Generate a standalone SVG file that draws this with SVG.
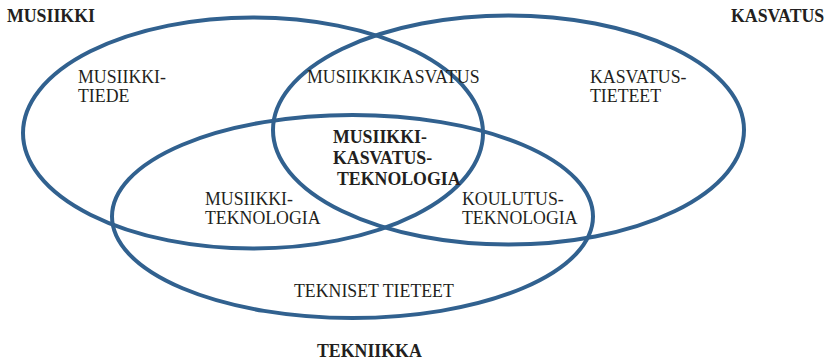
<svg xmlns="http://www.w3.org/2000/svg" width="831" height="362" viewBox="0 0 831 362">
  <style>
    .ring { fill: none; stroke: #31618f; stroke-width: 4; }
    .lbl { font-family: "Liberation Serif", "Times New Roman", serif; font-size: 17.8px; fill: #231f20; }
    .b { font-weight: bold; }
  </style>
  <rect width="831" height="362" fill="#ffffff"/>

  <!-- set outlines -->
  <g id="musiikki">
    <ellipse class="ring" cx="253" cy="133" rx="230" ry="115.5"/>
    <text class="lbl b" x="7" y="22">MUSIIKKI</text>
  </g>
  <g id="kasvatus">
    <ellipse class="ring" cx="508.5" cy="130" rx="235.5" ry="114.5"/>
    <text class="lbl b" x="731" y="22">KASVATUS</text>
  </g>
  <g id="tekniikka">
    <ellipse class="ring" cx="352.5" cy="216.5" rx="240.5" ry="101.5"/>
    <text class="lbl b" x="317" y="357">TEKNIIKKA</text>
  </g>

  <!-- region labels -->
  <g id="musiikkitiede">
    <text class="lbl" x="78" y="83">MUSIIKKI-</text>
    <text class="lbl" x="78" y="102">TIEDE</text>
  </g>
  <g id="musiikkikasvatus">
    <text class="lbl" x="307" y="83">MUSIIKKIKASVATUS</text>
  </g>
  <g id="kasvatustieteet">
    <text class="lbl" x="590" y="83">KASVATUS-</text>
    <text class="lbl" x="590" y="102">TIETEET</text>
  </g>
  <g id="musiikkikasvatusteknologia">
    <text class="lbl b" x="333" y="143">MUSIIKKI-</text>
    <text class="lbl b" x="333" y="164">KASVATUS-</text>
    <text class="lbl b" x="337" y="185">TEKNOLOGIA</text>
  </g>
  <g id="musiikkiteknologia">
    <text class="lbl" x="205" y="205">MUSIIKKI-</text>
    <text class="lbl" x="205" y="224">TEKNOLOGIA</text>
  </g>
  <g id="koulutusteknologia">
    <text class="lbl" x="462" y="205">KOULUTUS-</text>
    <text class="lbl" x="462" y="224">TEKNOLOGIA</text>
  </g>
  <g id="teknisettieteet">
    <text class="lbl" x="294" y="297">TEKNISET TIETEET</text>
  </g>
  <g id="connectors"></g>
</svg>
